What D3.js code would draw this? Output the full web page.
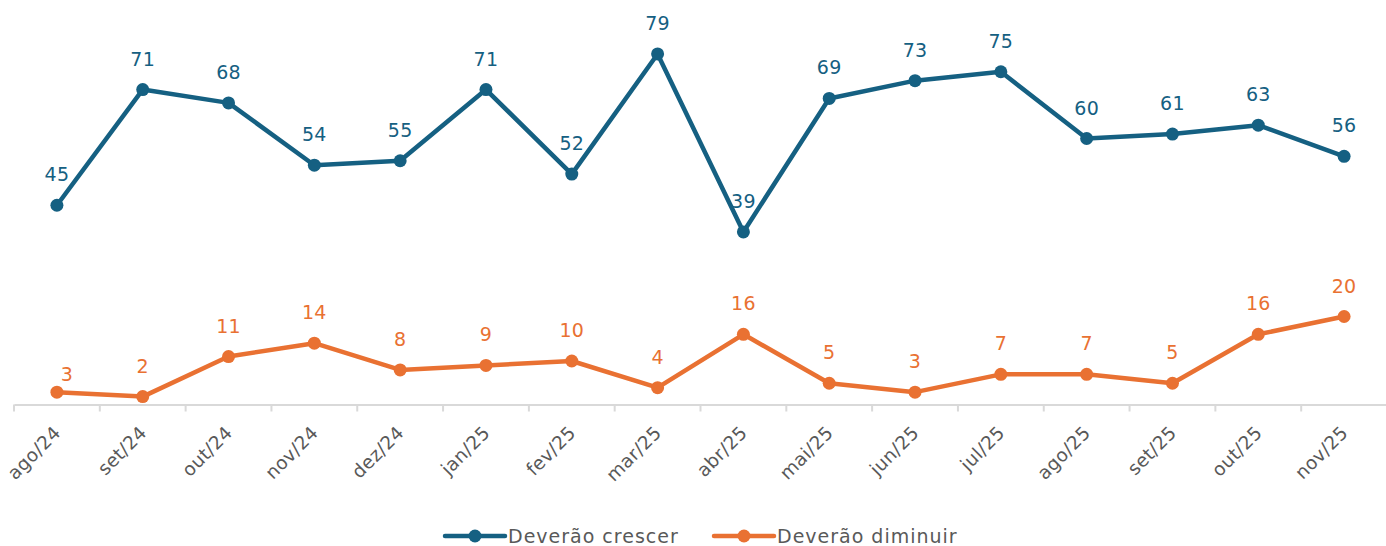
<!DOCTYPE html>
<html><head><meta charset="utf-8">
<script src="https://cdn.jsdelivr.net/npm/d3@7"></script>
<style>body{margin:0;background:#fff}svg{display:block}</style>
</head><body>
<svg id="c" width="1386" height="546"></svg>
<script>
const categories = ["ago/24","set/24","out/24","nov/24","dez/24","jan/25","fev/25","mar/25","abr/25","mai/25","jun/25","jul/25","ago/25","set/25","out/25","nov/25"];
const crescer = [45,71,68,54,55,71,52,79,39,69,73,75,60,61,63,56];
const diminuir = [3,2,11,14,8,9,10,4,16,5,3,7,7,5,16,20];
const seriesNames = ["Deverão crescer","Deverão diminuir"];
const colors = ["#156082","#E97132"];

const svg = d3.select("#c");
const font = "'DejaVu Sans', sans-serif";
const x = d3.scaleBand().domain(categories).range([14, 1387]);
const y = d3.scaleLinear().domain([0, 90]).range([405.5, 5]);
const axisY = 404.5;

// axis
const ax = svg.append("g").attr("transform",`translate(0,${axisY})`)
  .call(d3.axisBottom(x).tickSize(0).tickFormat(d=>d));
ax.select(".domain").attr("stroke","#d9d9d9").attr("stroke-width",2);
ax.selectAll(".tick").remove();
// boundary ticks
const bounds = categories.map(c=>x(c));
svg.append("g").selectAll("line").data(bounds).join("line")
  .attr("x1",d=>d).attr("x2",d=>d).attr("y1",axisY).attr("y2",axisY+7)
  .attr("stroke","#d9d9d9").attr("stroke-width",2);
svg.append("g").selectAll("text").data(categories).join("text")
  .attr("transform",d=>`translate(${x(d)+x.bandwidth()/2+5},${434}) rotate(-45)`)
  .attr("text-anchor","end").attr("font-family",font).attr("font-size",18.5)
  .attr("letter-spacing",0.3)
  .attr("fill","#595959").text(d=>d);

const cx = d=>x(d)+x.bandwidth()/2;
const series = [crescer, diminuir];
series.forEach((vals,i)=>{
  const pts = vals.map((v,j)=>({c:categories[j],v}));
  const line = d3.line().x(d=>cx(d.c)).y(d=>y(d.v));
  svg.append("path").datum(pts).attr("d",line).attr("fill","none")
    .attr("stroke",colors[i]).attr("stroke-width",4.5).attr("stroke-linejoin","round");
  svg.append("g").selectAll("circle").data(pts).join("circle")
    .attr("cx",d=>cx(d.c)).attr("cy",d=>y(d.v)).attr("r",6.5).attr("fill",colors[i]);
  svg.append("g").selectAll("text").data(pts).join("text")
    .attr("x",(d,j)=>cx(d.c)+(i===1&&j===0?10:0))
    .attr("y",(d,j)=>y(d.v)-(i===1&&j===0?11:24))
    .attr("text-anchor","middle").attr("font-family",font).attr("font-size",19)
    .attr("letter-spacing",0.3)
    .attr("fill",colors[i]).text(d=>d.v);
});

// legend
const leg = [{x:445},{x:714}];
seriesNames.forEach((n,i)=>{
  const g = svg.append("g").attr("transform",`translate(${leg[i].x},536)`);
  g.append("line").attr("x1",0).attr("x2",60).attr("y1",0).attr("y2",0)
    .attr("stroke",colors[i]).attr("stroke-width",4.5).attr("stroke-linecap","round");
  g.append("circle").attr("cx",30).attr("cy",0).attr("r",6.5).attr("fill",colors[i]);
  g.append("text").attr("x",63).attr("y",7).attr("font-family",font).attr("font-size",19)
    .attr("letter-spacing",1)
    .attr("fill","#595959").text(n);
});
</script>
</body></html>
